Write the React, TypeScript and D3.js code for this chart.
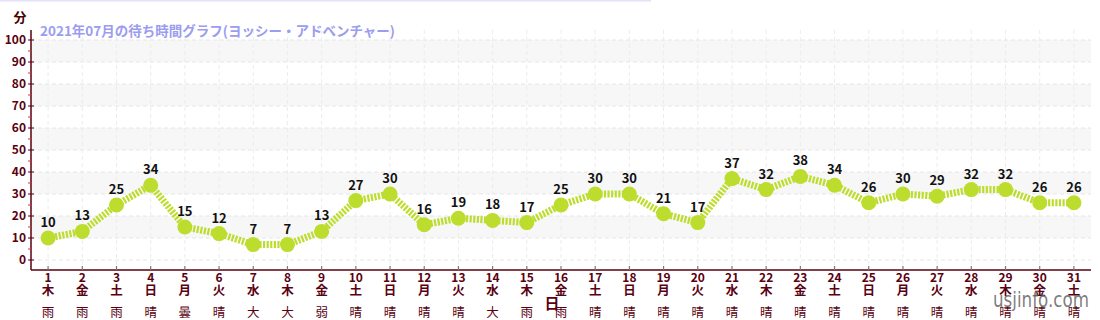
import React from "react";
import * as d3 from "d3";

const days = d3.range(1, 32).map(String);
const waitMinutes = [10, 13, 25, 34, 15, 12, 7, 7, 13, 27, 30, 16, 19, 18, 17, 25, 30, 30, 21, 17, 37, 32, 38, 34, 26, 30, 29, 32, 32, 26, 26];
const weekdays = ["木", "金", "土", "日", "月", "火", "水", "木", "金", "土", "日", "月", "火", "水", "木", "金", "土", "日", "月", "火", "水", "木", "金", "土", "日", "月", "火", "水", "木", "金", "土"];
const weather = ["雨", "雨", "雨", "晴", "曇", "晴", "大雨", "大雨", "弱雨", "晴", "晴", "晴", "晴", "大雨", "雨", "雨", "晴", "晴", "晴", "晴", "晴", "晴", "晴", "晴", "晴", "晴", "晴", "晴", "晴", "晴", "晴"];
const yTicks = d3.range(0, 101, 10);
const yMinorTicks = d3.range(5, 100, 10);
const bandStarts = [10, 30, 50, 70, 90];
const title = "2021年07月の待ち時間グラフ(ヨッシー・アドベンチャー)";

const W = 1100, H = 320;
const left = 31, right = 1091, top = 30, bottom = 270;
const axisColor = "#5a0010";
const lineColor = "#bddd2e";
const font = "'Noto Sans CJK JP', 'Noto Sans', sans-serif";

export default function App() {
  const x = d3.scaleBand<string>().domain(days).range([left, right]);
  const y = d3.scaleLinear().domain([0, 100]).range([260, 40]);
  const cx = (d: string) => (x(d) as number) + x.bandwidth() / 2;
  const line = d3.line<number>().x((_, i) => cx(days[i])).y((v) => y(v));

  return (
    <svg width={W} height={H} style={{ position: "absolute", left: 0, top: 0, background: "#fff" }} fontFamily={font}>
      <rect x={0} y={0} width={651} height={1.5} fill="#e2e2fb" />
      {bandStarts.map((b) => (
        <rect key={b} x={left} y={y(b + 10)} width={right - left} height={y(b) - y(b + 10)} fill="#f7f7f7" />
      ))}
      {yTicks.map((t) => (
        <line key={"g" + t} x1={left} x2={right} y1={y(t)} y2={y(t)} stroke="#e6e6e6" strokeDasharray="4,3" />
      ))}
      {days.map((d) => (
        <line key={"v" + d} x1={cx(d)} x2={cx(d)} y1={top} y2={bottom} stroke="#ececec" strokeDasharray="4,3" />
      ))}
      {/* y axis */}
      <line x1={left} x2={left} y1={top} y2={bottom} stroke={axisColor} strokeWidth={1.5} />
      {yTicks.map((t) => (
        <g key={"t" + t}>
          <line x1={left - 3} x2={left + 3} y1={y(t)} y2={y(t)} stroke={axisColor} strokeWidth={1} />
          <text x={left - 5} y={y(t)} dy="0.35em" textAnchor="end" fontSize={12} fontWeight="bold" fill={axisColor}>{t}</text>
        </g>
      ))}
      {yMinorTicks.map((t) => (
        <line key={"m" + t} x1={left - 3} x2={left} y1={y(t)} y2={y(t)} stroke="#e03030" strokeWidth={1} />
      ))}
      <text x={20} y={22} textAnchor="middle" fontSize={13} fontWeight="bold" fill="#4a0000">分</text>
      {/* x axis */}
      <line x1={left} x2={right} y1={bottom} y2={bottom} stroke={axisColor} strokeWidth={1.5} />
      {days.map((d, i) => (
        <g key={"x" + d}>
          <line x1={cx(d)} x2={cx(d)} y1={bottom - 4} y2={bottom} stroke="#777" strokeWidth={1.2} />
          <text x={cx(d)} y={282} textAnchor="middle" fontSize={12} fontWeight="bold" fill={axisColor}>{d}</text>
          <text x={cx(d)} y={295} textAnchor="middle" fontSize={12.5} fontWeight="bold" fill={axisColor}>{weekdays[i]}</text>
          {weather[i].split("").map((c, k) => (
            <text key={k} x={cx(d)} y={317 + k * 14} textAnchor="middle" fontSize={12.5} fill={axisColor}>{c}</text>
          ))}
        </g>
      ))}
      <text x={552} y={309} textAnchor="middle" fontSize={15} fontWeight="bold" fill={axisColor}>日</text>
      {/* title */}
      <text x={40} y={36} fontSize={13.5} fontWeight="bold" fill="#9c9cf0">{title}</text>
      {/* series */}
      <path d={line(waitMinutes) as string} fill="none" stroke={lineColor} strokeWidth={7} strokeDasharray="2.2,1.4" />
      {waitMinutes.map((v, i) => (
        <circle key={"c" + i} cx={cx(days[i])} cy={y(v)} r={7.5} fill={lineColor} />
      ))}
      {waitMinutes.map((v, i) => (
        <text key={"l" + i} x={cx(days[i])} y={y(v) - 11} textAnchor="middle" fontSize={13} fontWeight="bold" fill="#111">{v}</text>
      ))}
      <text x={1089} y={307} textAnchor="end" fontSize={22} textLength={96} lengthAdjust="spacingAndGlyphs" fill="#666" fillOpacity={0.85} fontFamily="'DejaVu Sans', sans-serif">usjinfo.com</text>
    </svg>
  );
}
